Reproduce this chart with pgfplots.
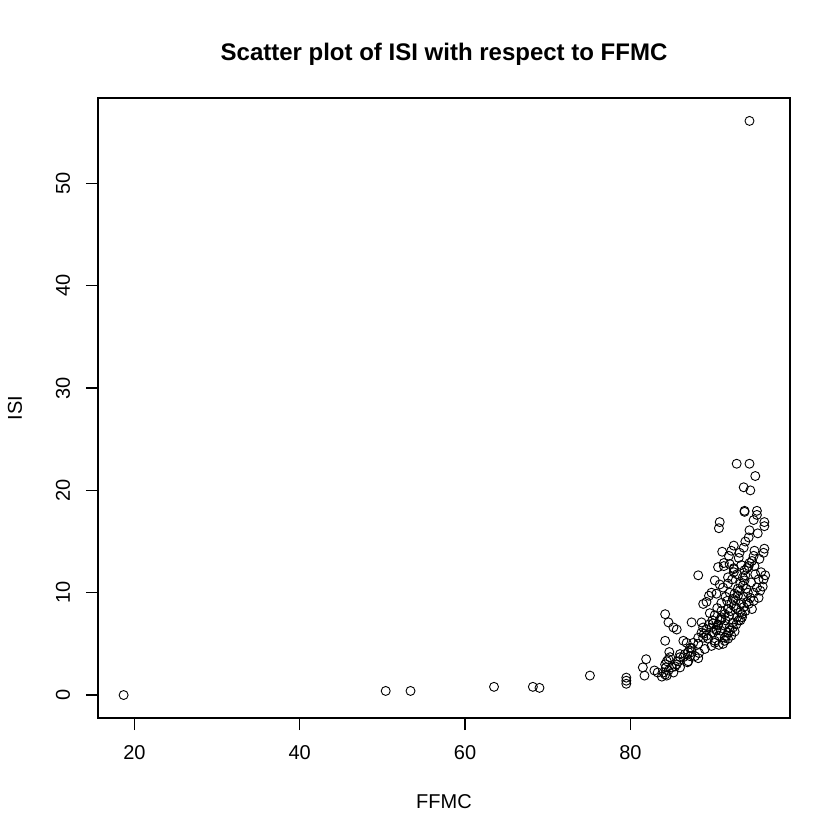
\documentclass[border=0pt]{standalone}
\usepackage{pgfplots}
\pgfplotsset{compat=1.18}
\usepackage{fontspec}
\setmainfont{Liberation Sans}
\begin{document}
\begin{tikzpicture}
\begin{axis}[
  at={(0,0)}, anchor=south west,
  scale only axis, width=346pt, height=310pt,
  xmin=15.6, xmax=99.3, ymin=-2.244, ymax=58.34,
  axis line style={line width=0.7pt},
  xtick={20,40,60,80}, ytick={0,10,20,30,40,50},
  xtick pos=bottom, ytick pos=left,
  tick align=outside, major tick length=6pt,
  tick style={line width=0.7pt, black},
  /pgf/number format/assume math mode=true,
  ticklabel style={font=\fontsize{10}{12}\selectfont},
  xticklabel style={anchor=center, yshift=-11.5pt},
  yticklabel style={rotate=90, anchor=center, yshift=11.5pt},
  xlabel={FFMC}, ylabel={ISI},
  label style={font=\fontsize{10}{12}\selectfont},
  xlabel style={at={(axis description cs:0.5,0)}, anchor=center, yshift=-42pt},
  ylabel style={at={(axis description cs:0,0.5)}, anchor=center, yshift=41.5pt},
  title={Scatter plot of ISI with respect to FFMC},
  title style={font=\fontsize{12}{14}\selectfont\bfseries, at={(axis description cs:0.5,1)}, anchor=center, yshift=16pt},
]
\addplot[only marks, mark=o, mark size=2.25pt, mark options={line width=0.45pt, black}] table {
x y
18.7 0
50.4 0.4
53.4 0.4
63.5 0.8
68.2 0.8
69.0 0.7
75.1 1.9
79.5 1.1
79.5 1.4
79.5 1.7
81.9 3.5
81.5 2.7
81.7 1.9
82.9 2.4
83.3 2.2
84.2 3.0
84.4 3.3
84.6 3.5
84.8 3.7
84.7 4.2
84.0 2.2
84.2 2.0
84.4 1.9
84.6 2.4
84.3 2.7
85.0 2.7
85.4 2.8
86.0 2.7
85.8 3.3
86.4 3.7
86.0 4.0
87.0 3.3
87.2 3.8
87.4 4.2
87.8 3.8
88.2 3.6
88.2 5.0
87.4 4.6
86.8 5.1
86.4 5.3
88.8 5.6
89.2 5.8
89.4 5.5
89.8 4.8
90.2 5.1
88.6 7.1
87.4 7.1
88.8 6.6
84.2 7.9
84.6 7.1
85.2 6.6
85.6 6.4
84.2 5.3
88.2 11.7
89.2 9.1
88.8 8.9
89.5 9.7
89.8 10.0
90.4 9.9
90.6 12.5
91.8 10.9
91.2 10.5
91.8 11.5
89.8 6.6
90.0 6.1
90.4 6.3
90.6 6.8
90.8 7.3
91.0 7.6
91.4 5.3
91.8 5.5
92.2 5.8
91.6 5.8
92.0 6.3
92.4 6.6
92.8 6.9
93.3 7.3
93.5 7.6
95.1 11.8
95.5 11.3
95.3 10.5
94.9 10.0
94.5 9.5
94.1 9.1
93.7 8.6
93.3 8.1
92.9 7.6
92.4 7.1
92.0 6.6
91.8 6.1
91.4 5.6
96.1 11.3
96.3 11.7
95.5 9.5
94.9 9.2
94.3 8.9
93.9 8.2
93.5 7.9
88.6 6.1
88.2 5.6
87.6 5.1
87.2 4.6
87.0 4.2
86.6 4.0
86.0 3.7
93.3 10.9
93.0 10.4
92.6 9.9
92.4 9.4
92.2 8.9
91.8 8.4
91.4 7.9
91.0 7.4
90.6 6.9
90.4 6.4
93.8 12.2
93.9 11.7
93.8 11.2
93.6 10.7
93.2 10.2
93.0 9.7
92.7 9.2
92.5 8.7
92.1 8.2
91.9 7.7
91.5 7.3
91.3 6.8
90.9 6.3
90.7 5.8
90.2 5.3
91.3 12.9
91.3 12.6
92.5 12.3
92.5 12.0
94.4 12.9
92.5 12.4
94.1 12.4
92.85 22.6
94.4 22.6
95.1 21.4
93.7 20.3
94.5 20.0
93.8 18.0
93.8 17.9
95.3 18.0
95.3 17.6
94.9 17.1
96.2 16.9
96.2 16.5
90.8 16.9
90.7 16.3
94.4 16.1
94.3 15.4
93.9 15.0
93.7 14.4
92.5 14.6
92.2 14.1
91.9 13.6
93.2 13.9
93.1 13.4
95.0 14.1
94.9 13.6
94.7 13.1
94.3 12.6
96.2 14.3
96.1 13.9
95.6 13.3
94.4 56.1
92.3 11.3
92.9 11.8
93.4 12.7
92.0 10.0
91.0 9.0
90.5 8.5
90.2 7.8
89.9 7.3
89.5 6.9
89.2 6.4
88.9 6.0
90.8 10.8
91.5 9.6
93.7 9.6
94.0 10.4
94.6 11.0
95.0 12.6
95.7 10.2
94.7 8.4
93.1 7.3
92.6 6.2
91.2 5.0
90.7 4.9
89.0 4.5
88.3 4.1
86.9 3.2
85.6 3.0
85.2 2.2
83.8 1.8
91.7 9.2
92.8 8.5
93.4 9.0
94.2 10.0
93.6 11.5
91.0 8.2
90.0 7.0
89.6 8.0
95.8 12.0
96.0 10.6
90.2 11.2
91.1 14.0
92.0 12.8
95.4 15.8
};
\end{axis}
\path (-49pt,-61pt) rectangle (371pt,359pt);
\end{tikzpicture}
\end{document}
